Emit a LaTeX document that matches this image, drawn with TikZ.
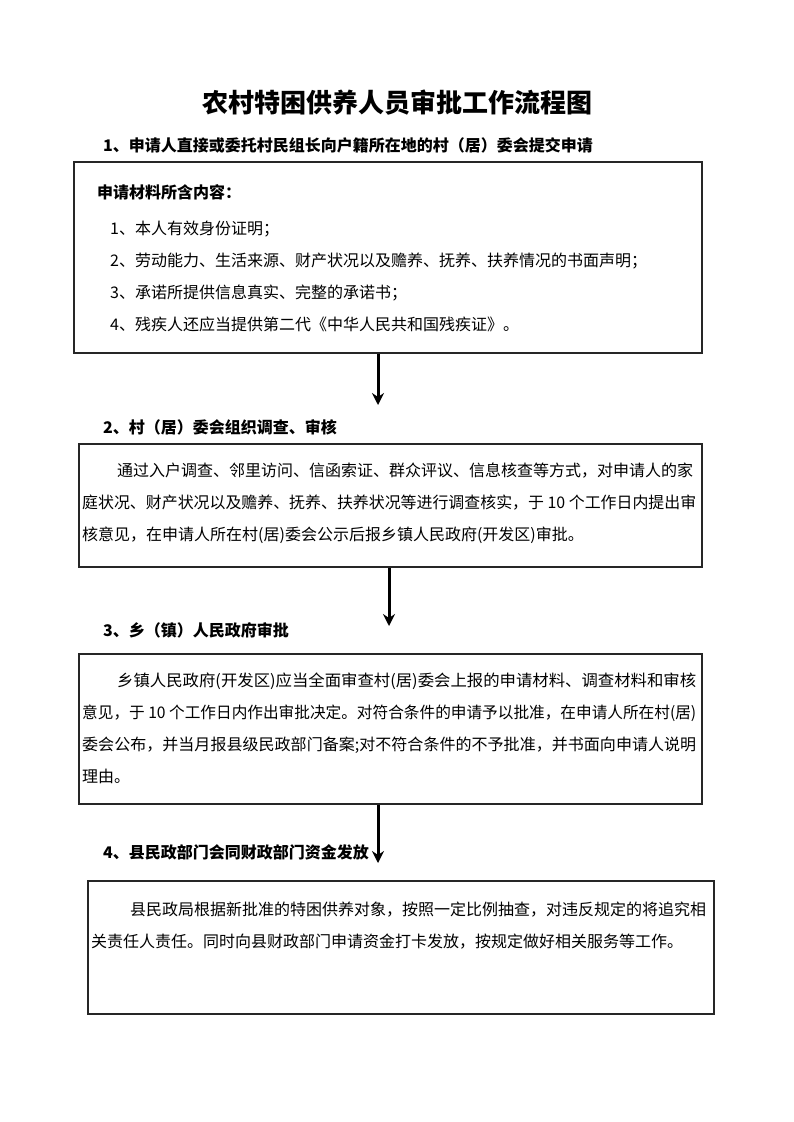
\documentclass[tikz,border=0pt]{standalone}
\usepackage{fontspec}
\usepackage{graphicx}
\setmainfont{Noto Sans CJK SC}
\usetikzlibrary{arrows.meta}
\newcommand{\fitline}[2]{\resizebox{#1}{\height}{#2}}
\begin{document}
\begin{tikzpicture}[x=1pt,y=-1pt,
  box/.style={draw=black!85, line width=1.6pt, inner sep=0pt, anchor=north west},
  titletext/.style={anchor=center, inner sep=0pt, font=\fontsize{26}{26}\selectfont\bfseries},
  headtext/.style={anchor=west, inner sep=0pt, font=\fontsize{16}{16}\selectfont\bfseries},
  bodytext/.style={anchor=north west, inner sep=0pt, align=left, font=\fontsize{16}{32}\selectfont},
  flowarrow/.style={-{Stealth[length=12pt,width=12pt,inset=4pt]}, line width=3pt}]
\useasboundingbox (0,0) rectangle (793,1122);

% title
\node[titletext] (title) at (397,103) {农村特困供养人员审批工作流程图};

% step 1
\node[headtext] (h1) at (103,145) {1、申请人直接或委托村民组长向户籍所在地的村（居）委会提交申请};
\node[box, minimum width=628pt, minimum height=191pt] (b1) at (73,161) {};
\node[headtext] (b1head) at (97,192) {申请材料所含内容：};
\node[bodytext] (b1text) at (110,221) {1、本人有效身份证明；\\
2、劳动能力、生活来源、财产状况以及赡养、抚养、扶养情况的书面声明；\\
3、承诺所提供信息真实、完整的承诺书；\\
4、残疾人还应当提供第二代《中华人民共和国残疾证》。};

% step 2
\node[headtext] (h2) at (103,427) {2、村（居）委会组织调查、审核};
\node[box, minimum width=623pt, minimum height=123pt] (b2) at (78,443) {};
\node[bodytext] (b2text) at (82,463) {\hspace*{35pt}通过入户调查、邻里访问、信函索证、群众评议、信息核查等方式，对申请人的家\\
\fitline{614pt}{庭状况、财产状况以及赡养、抚养、扶养状况等进行调查核实，于 10 个工作日内提出审}\\
核意见，在申请人所在村(居)委会公示后报乡镇人民政府(开发区)审批。};

% step 3
\node[headtext] (h3) at (103,630) {3、乡（镇）人民政府审批};
\node[box, minimum width=623pt, minimum height=150pt] (b3) at (78,653) {};
\node[bodytext] (b3text) at (82,673) {\hspace*{35pt}\fitline{579pt}{乡镇人民政府(开发区)应当全面审查村(居)委会上报的申请材料、调查材料和审核}\\
\fitline{614pt}{意见，于 10 个工作日内作出审批决定。对符合条件的申请予以批准，在申请人所在村(居)}\\
\fitline{614pt}{委会公布，并当月报县级民政部门备案;对不符合条件的不予批准，并书面向申请人说明}\\
理由。};

% step 4
\node[headtext] (h4) at (103,852) {4、县民政部门会同财政部门资金发放};
\node[box, minimum width=626pt, minimum height=133pt] (b4) at (87,880) {};
\node[bodytext] (b4text) at (91,902) {\hspace*{39pt}县民政局根据新批准的特困供养对象，按照一定比例抽查，对违反规定的将追究相\\
关责任人责任。同时向县财政部门申请资金打卡发放，按规定做好相关服务等工作。};

% arrows
\coordinate (t1) at (378,405);
\coordinate (t2) at (389,626);
\coordinate (t3) at (378,863);
\draw[flowarrow] (b1.south -| t1) -- (t1);
\draw[flowarrow] (b2.south -| t2) -- (t2);
\draw[flowarrow] (b3.south -| t3) -- (t3);
\end{tikzpicture}
\end{document}
